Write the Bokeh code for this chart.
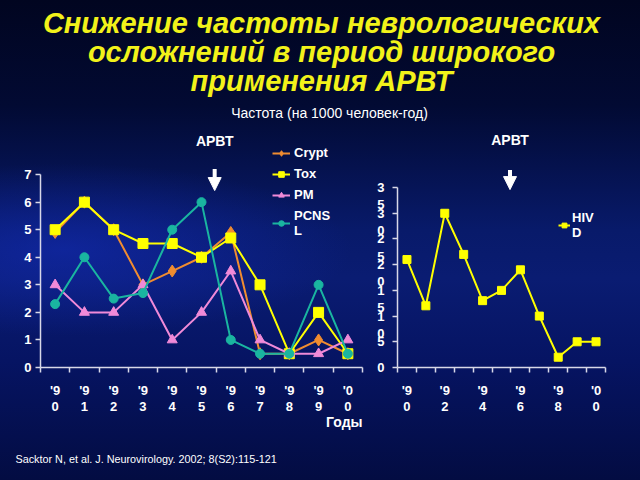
from bokeh.plotting import figure
from bokeh.models import Range1d, FixedTicker, Legend, LegendItem, Arrow, NormalHead, Title
from bokeh.layouts import column, row
from bokeh.embed import file_html
from bokeh.resources import INLINE
from bokeh.core.properties import value

# ---------------- data ----------------
years = [1990, 1991, 1992, 1993, 1994, 1995, 1996, 1997, 1998, 1999, 2000]
left_year_labels = ["'9\n0", "'9\n1", "'9\n2", "'9\n3", "'9\n4", "'9\n5",
                    "'9\n6", "'9\n7", "'9\n8", "'9\n9", "'0\n0"]
right_year_labels = ["'9\n0", "", "'9\n2", "", "'9\n4", "", "'9\n6", "",
                     "'9\n8", "", "'0\n0"]

crypt = [4.9, 6, 5, 3, 3.5, 4, 4.9, 0.5, 0.5, 1, 0.5]
tox = [5, 6, 5, 4.5, 4.5, 4, 4.7, 3, 0.5, 2, 0.5]
pml = [3, 2, 2, 3, 1, 2, 3.5, 1, 0.5, 0.5, 1]
pcnsl = [2.3, 4, 2.5, 2.7, 5, 6, 1, 0.5, 0.5, 3, 0.5]
hivd = [21, 12, 30, 22, 13, 15, 19, 10, 2, 5, 5]

series_names = ["Crypt", "Tox", "PM", "PCNS\nL"]
hivd_name = "HIV\nD"

left_yticks = [0, 1, 2, 3, 4, 5, 6, 7]
right_yticks = [0, 5, 10, 15, 20, 25, 30, 35]
# leading empty line keeps the first digit level with its tick, as in the wrapped original
right_ytick_labels = ["0", "5", "\n1\n0", "\n1\n5", "\n2\n0", "\n2\n5", "\n3\n0", "\n3\n5"]

title_lines = ["Снижение частоты неврологических",
               "осложнений в период широкого",
               "применения АРВТ"]
subtitle = "Частота (на 1000 человек-год)"
haart_label = "АРВТ"
haart_year = 1995.45
x_axis_title = "Годы"
citation = "Sacktor N, et al.  J. Neurovirology. 2002; 8(S2):115-121"

# ---------------- styles ----------------
FONT = "Liberation Sans"
WHITE = "#ffffff"
AXIS_COLOR = "#d8d8e8"
C_CRYPT = "#f08c30"
C_TOX = "#ffff00"
C_PML = "#f08ad8"
C_PCNSL = "#1ab5a0"
YELLOW_TITLE = "#f2f21a"


def clean(p):
    p.background_fill_alpha = 0
    p.border_fill_alpha = 0
    p.outline_line_color = None
    for g in p.grid:
        g.visible = False


def style_axes(p, label_overrides, minor):
    xa = p.xaxis[0]
    xa.ticker = FixedTicker(ticks=years, minor_ticks=minor)
    xa.major_label_overrides = label_overrides
    xa.major_tick_line_color = None
    xa.major_tick_out = 5
    xa.major_tick_in = 0
    xa.minor_tick_line_color = AXIS_COLOR
    xa.minor_tick_out = 5
    xa.minor_tick_in = 0
    xa.minor_tick_line_width = 1.5
    xa.axis_line_color = AXIS_COLOR
    xa.axis_line_width = 1.5
    xa.major_label_text_color = WHITE
    xa.major_label_text_font = FONT
    xa.major_label_text_font_style = "bold"
    xa.major_label_text_font_size = "13px"
    xa.major_label_text_line_height = 1.1
    xa.major_label_standoff = 10
    ya = p.yaxis[0]
    ya.axis_line_color = AXIS_COLOR
    ya.axis_line_width = 1.5
    ya.major_tick_line_color = AXIS_COLOR
    ya.major_tick_line_width = 1.5
    ya.major_tick_out = 5
    ya.major_tick_in = 0
    ya.minor_tick_line_color = None
    ya.major_label_text_color = WHITE
    ya.major_label_text_font = FONT
    ya.major_label_text_font_style = "bold"
    ya.major_label_text_font_size = "13px"
    ya.major_label_text_line_height = 1.15


boundaries = [y - 0.5 for y in years] + [years[-1] + 0.5]

# ---------------- title ----------------
top = figure(width=640, height=130, x_range=Range1d(0, 640), y_range=Range1d(130, 0),
             x_axis_type=None, y_axis_type=None, output_backend="svg",
             toolbar_location=None, min_border=0)
clean(top)
top.text(x=[321, 321, 321], y=[22, 51, 80], text=title_lines, text_color=YELLOW_TITLE,
         text_font=value(FONT), text_font_style="bold italic", text_font_size="29px",
         text_align="center", text_baseline="middle")
top.text(x=[329], y=[112], text=[subtitle], text_color=WHITE, text_font=value(FONT),
         text_font_size="14px", text_align="center", text_baseline="middle")

# ---------------- left chart ----------------
left = figure(width=370, height=310, x_range=Range1d(1989.5, 2000.5), y_range=Range1d(0, 8.6),
              output_backend="svg", toolbar_location=None,
              min_border_left=40, min_border_right=8, min_border_top=0, min_border_bottom=73)
clean(left)
style_axes(left, dict(zip(years, left_year_labels)), boundaries)
left.yaxis[0].ticker = FixedTicker(ticks=left_yticks)
left.yaxis[0].bounds = (0, 7)
left.yaxis[0].major_label_standoff = 4
left.add_layout(Title(text=x_axis_title, align="right", vertical_align="top",
                      text_color=WHITE, text_font=FONT, text_font_style="bold",
                      text_font_size="14px", standoff=-8, offset=0),
                "below")

items = []
specs = [(crypt, C_CRYPT, "diamond", 12), (tox, C_TOX, "square", 10),
         (pml, C_PML, "triangle", 10), (pcnsl, C_PCNSL, "circle", 9)]
for name, (vals, col, mk, sz) in zip(series_names, specs):
    rl = left.line(years, vals, line_color=col, line_width=2)
    rm = left.scatter(years, vals, marker=mk, size=sz, fill_color=col, line_color=col)
    items.append(LegendItem(label=name, renderers=[rl, rm]))

leg = Legend(items=items, location=(232, 129), background_fill_alpha=0, border_line_alpha=0,
             padding=0, margin=0, spacing=6, glyph_width=18, glyph_height=14, label_standoff=4,
             label_text_color=WHITE, label_text_font=FONT, label_text_font_style="bold",
             label_text_font_size="13px", label_text_line_height=1.3)
left.add_layout(leg)

left.text(x=[haart_year], y=[8.23], text=[haart_label], text_color=WHITE, text_font=value(FONT),
          text_font_style="bold", text_font_size="14px", text_align="center", text_baseline="middle")
left.add_layout(Arrow(end=NormalHead(size=13, fill_color=WHITE, line_color=WHITE),
                      x_start=haart_year, y_start=7.2, x_end=haart_year, y_end=6.42,
                      line_color=WHITE, line_width=4))

# ---------------- right chart ----------------
right = figure(width=270, height=310, x_range=Range1d(1989.5, 2000.5), y_range=Range1d(0, 46.1),
               output_backend="svg", toolbar_location=None,
               min_border_left=27, min_border_right=35, min_border_top=0, min_border_bottom=73)
clean(right)
style_axes(right, dict(zip(years, right_year_labels)), boundaries)
right.yaxis[0].ticker = FixedTicker(ticks=right_yticks)
right.yaxis[0].bounds = (0, 35)
right.yaxis[0].major_label_overrides = dict(zip(right_yticks, right_ytick_labels))
right.yaxis[0].major_label_standoff = 8

rl = right.line(years, hivd, line_color=C_TOX, line_width=2)
rm = right.scatter(years, hivd, marker="square", size=8, fill_color=C_TOX, line_color=C_TOX)
leg2 = Legend(items=[LegendItem(label=hivd_name, renderers=[rl, rm])], location=(161, 127),
              background_fill_alpha=0, border_line_alpha=0, padding=0, margin=0,
              glyph_width=12, glyph_height=12, label_standoff=2,
              label_text_color=WHITE, label_text_font=FONT, label_text_font_style="bold",
              label_text_font_size="13px", label_text_line_height=1.3)
right.add_layout(leg2)
right.text(x=[haart_year], y=[44.3], text=[haart_label], text_color=WHITE, text_font=value(FONT),
           text_font_style="bold", text_font_size="14px", text_align="center", text_baseline="middle")
right.add_layout(Arrow(end=NormalHead(size=13, fill_color=WHITE, line_color=WHITE),
                       x_start=haart_year, y_start=38.4, x_end=haart_year, y_end=34.6,
                       line_color=WHITE, line_width=4))

# ---------------- footer ----------------
foot = figure(width=640, height=40, x_range=Range1d(0, 640), y_range=Range1d(40, 0),
              x_axis_type=None, y_axis_type=None, output_backend="svg",
              toolbar_location=None, min_border=0)
clean(foot)
foot.text(x=[15], y=[18], text=[citation], text_color=WHITE,
          text_font=value(FONT), text_font_size="10.8px",
          text_align="left", text_baseline="middle")

layout = column(top, row(left, right), foot,
                styles={"background": "radial-gradient(ellipse 45% 18% at 10% 52%, rgba(20,45,190,0.55), rgba(20,45,190,0) 100%), "
                                      "linear-gradient(180deg, #010520 0%, #020a33 22%, #081a6a 48%, #0a1c72 58%, #061463 75%, #030c42 100%)"})

open("out.html", "w").write(file_html(layout, INLINE))
